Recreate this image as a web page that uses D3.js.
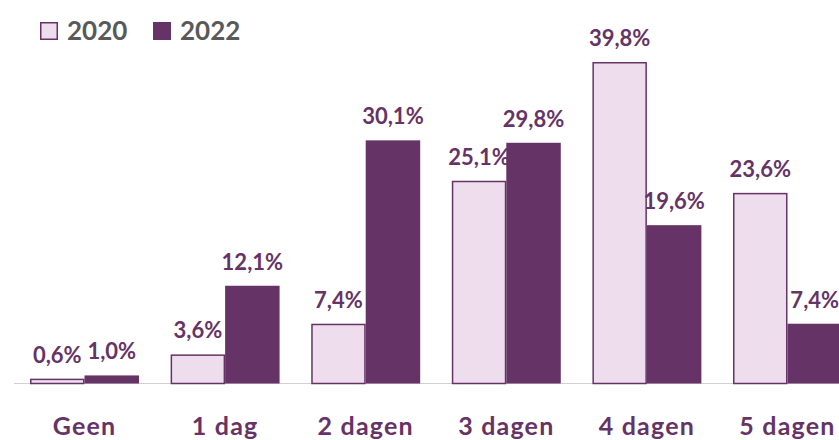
<!DOCTYPE html>
<html>
<head>
<meta charset="utf-8">
<script src="https://cdn.jsdelivr.net/npm/d3@7"></script>
<style>
  body { margin: 0; background: #fff; }
  svg { display: block; font-family: Lato, "Open Sans", sans-serif; }
</style>
</head>
<body>
<svg id="chart" width="839" height="440"></svg>
<script>
// Dagen per week (2020 vs 2022)
const categories = ["Geen", "1 dag", "2 dagen", "3 dagen", "4 dagen", "5 dagen"];
const years = ["2020", "2022"];
const values2020 = [0.6, 3.6, 7.4, 25.1, 39.8, 23.6];
const values2022 = [1.0, 12.1, 30.1, 29.8, 19.6, 7.4];

const dark = "#663366";
const light = "#eedeed";
const textPurple = "#663366";

const svg = d3.select("#chart");
const baseY = 383.5;

const x = d3.scaleBand()
  .domain(categories)
  .range([14, 858])
  .paddingInner(0.225)
  .paddingOuter(0.114);

const xs = d3.scaleBand().domain(years).range([0, x.bandwidth()]);

const y = d3.scaleLinear().domain([0, 40]).range([baseY, baseY - 40 * 8.078]);

const rows = categories.map((c, i) => ({ cat: c, vals: [values2020[i], values2022[i]] }));

// baseline
svg.append("line")
  .attr("x1", 14).attr("x2", 839)
  .attr("y1", baseY).attr("y2", baseY)
  .attr("stroke", "#d0d0d0").attr("stroke-width", 1);

const g = svg.selectAll("g.cat")
  .data(rows)
  .enter().append("g")
  .attr("transform", d => `translate(${x(d.cat)},0)`);

g.selectAll("rect")
  .data(d => d.vals.map((v, j) => ({ year: years[j], v })))
  .enter().append("rect")
  .attr("x", d => xs(d.year) + (d.year === "2020" ? 0.75 : 0))
  .attr("y", d => y(d.v) + (d.year === "2020" ? 0.75 : 0))
  .attr("width", d => xs.bandwidth() - (d.year === "2020" ? 1.5 : 0))
  .attr("height", d => baseY - y(d.v) - (d.year === "2020" ? 0.75 : 0))
  .attr("fill", d => d.year === "2020" ? light : dark)
  .attr("stroke", d => d.year === "2020" ? dark : "none")
  .attr("stroke-width", 1.5);

g.selectAll("text.val")
  .data(d => d.vals.map((v, j) => ({ year: years[j], v })))
  .enter().append("text")
  .attr("class", "val")
  .attr("x", d => xs(d.year) + xs.bandwidth() / 2)
  .attr("y", d => y(d.v) - 16)
  .attr("text-anchor", "middle")
  .attr("font-size", 22)
  .attr("font-weight", "bold")
  .attr("fill", textPurple)
  .text(d => d.v.toFixed(1).replace(".", ",") + "%");

// category labels
svg.selectAll("text.cat")
  .data(categories)
  .enter().append("text")
  .attr("class", "cat")
  .attr("x", d => x(d) + x.bandwidth() / 2)
  .attr("y", 435)
  .attr("text-anchor", "middle")
  .attr("font-size", 25)
  .attr("font-weight", "bold")
  .attr("letter-spacing", 1.2)
  .attr("fill", textPurple)
  .text(d => d);

// legend
const legend = svg.selectAll("g.leg")
  .data(years)
  .enter().append("g")
  .attr("transform", (d, i) => `translate(${40 + i * 113},0)`);

legend.append("rect")
  .attr("x", 0.75).attr("y", 22.75)
  .attr("width", 16.5).attr("height", 16.5)
  .attr("fill", d => d === "2020" ? light : dark)
  .attr("stroke", dark).attr("stroke-width", 1.5);

legend.append("text")
  .attr("x", 27).attr("y", 39.5)
  .attr("font-size", 26)
  .attr("font-weight", "bold")
  .attr("fill", "#595959")
  .text(d => d);
</script>
</body>
</html>
